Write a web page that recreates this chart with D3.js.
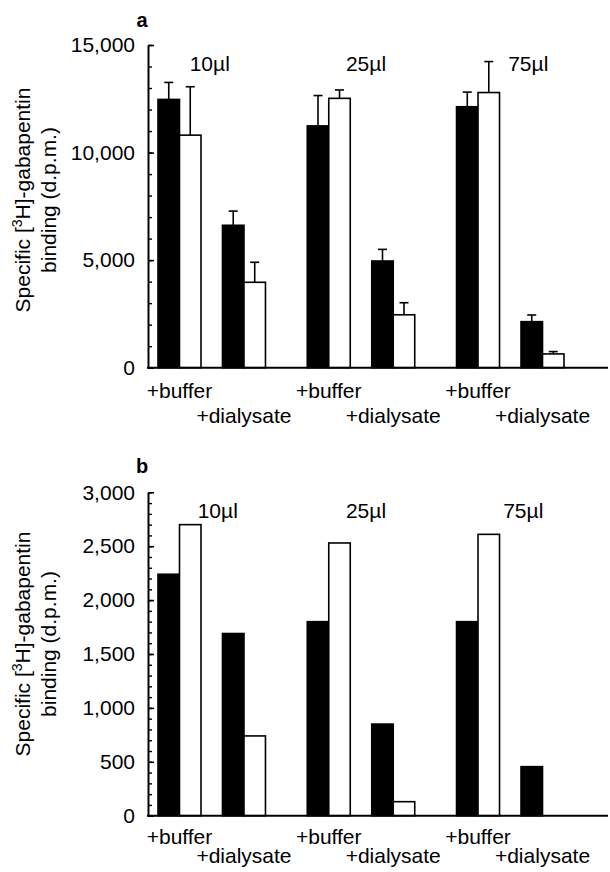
<!DOCTYPE html>
<html>
<head>
<meta charset="utf-8">
<script src="https://cdn.jsdelivr.net/npm/d3@7"></script>
<style>
    body { margin: 0; background: #fff; }
    svg text { font-family: "Liberation Sans", Arial, Helvetica, sans-serif; fill: #000; }
</style>
</head>
<body>
<svg id="chart" width="610" height="872"></svg>
<script>
// groups and conditions
const doses = ['10\u00b5l', '25\u00b5l', '75\u00b5l'];
const conditions = ['+buffer', '+dialysate'];
const seriesKeys = ['filled', 'open'];

// panel a : values per dose, [buffer, dialysate]
const aFilled = [[12470, 6620], [11240, 4960], [12130, 2140]];
const aFilledErr = [[790, 660], [1410, 540], [680, 310]];
const aOpen = [[10810, 3970], [12520, 2460], [12790, 640]];
const aOpenErr = [[2250, 930], [390, 560], [1440, 110]];
const aTicks = [0, 5000, 10000, 15000];
const aMinor = d3.range(0, 15001, 1000);

// panel b : no error bars
const bFilled = [[2240, 1690], [1800, 850], [1800, 455]];
const bOpen = [[2700, 740], [2530, 130], [2610, 0]];
const bTicks = [0, 500, 1000, 1500, 2000, 2500, 3000];
const bMinor = d3.range(0, 3001, 100);

const svg = d3.select('#chart');
const axisX = 148;

function buildRows(filled, open, filledErr, openErr) {
    let rows = [];
    doses.forEach((dose, i) => {
        conditions.forEach((cond, j) => {
            rows.push({dose: dose, cond: cond, key: 'filled', value: filled[i][j], err: filledErr ? filledErr[i][j] : null});
            rows.push({dose: dose, cond: cond, key: 'open', value: open[i][j], err: openErr ? openErr[i][j] : null});
        });
    });
    return rows;
}

function drawPanel(opts) {
    const g = svg.append('g');

    let y = d3.scaleLinear()
        .domain([0, opts.max])
        .range([opts.bottom, opts.top]);

    let xDose = d3.scaleBand()
        .domain(doses)
        .range([158, 564])
        .paddingInner(0.28);
    let xCond = d3.scaleBand()
        .domain(conditions)
        .range([0, xDose.bandwidth()])
        .paddingInner(1 / 3);
    let xKey = d3.scaleBand()
        .domain(seriesKeys)
        .range([0, xCond.bandwidth()]);

    const barX = d => xDose(d.dose) + xCond(d.cond) + xKey(d.key);

    // bars
    g.selectAll('rect.bar')
        .data(opts.rows)
        .enter().append('rect')
        .attr('class', 'bar')
        .attr('x', barX)
        .attr('width', xKey.bandwidth())
        .attr('y', d => y(d.value))
        .attr('height', d => opts.bottom - y(d.value))
        .attr('fill', d => d.key === 'filled' ? '#000' : '#fff')
        .attr('stroke', '#000')
        .attr('stroke-width', 1.6);

    // error bars (upper only)
    let errRows = opts.rows.filter(d => d.err !== null);
    let eb = g.selectAll('g.err')
        .data(errRows)
        .enter().append('g')
        .attr('class', 'err')
        .attr('stroke', '#000')
        .attr('stroke-width', 1.6);
    eb.append('line')
        .attr('x1', d => barX(d) + xKey.bandwidth() / 2)
        .attr('x2', d => barX(d) + xKey.bandwidth() / 2)
        .attr('y1', d => y(d.value))
        .attr('y2', d => y(d.value + d.err));
    eb.append('line')
        .attr('x1', d => barX(d) + xKey.bandwidth() / 2 - 4.5)
        .attr('x2', d => barX(d) + xKey.bandwidth() / 2 + 4.5)
        .attr('y1', d => y(d.value + d.err))
        .attr('y2', d => y(d.value + d.err));

    // minor ticks
    g.append('g')
        .attr('transform', 'translate(' + axisX + ',0)')
        .call(d3.axisLeft(y).tickValues(opts.minor).tickSize(-4).tickFormat(''))
        .call(s => s.select('.domain').remove())
        .call(s => s.selectAll('line').attr('stroke-width', 1.4));

    // y axis
    g.append('g')
        .attr('transform', 'translate(' + axisX + ',0)')
        .call(d3.axisLeft(y).tickValues(opts.ticks).tickSizeInner(-6).tickSizeOuter(0)
            .tickPadding(13).tickFormat(d3.format(',')))
        .call(s => s.select('.domain').attr('stroke-width', 2))
        .call(s => s.selectAll('line').attr('stroke-width', 1.6))
        .call(s => s.selectAll('text').attr('font-size', 21).attr('font-family', null));

    // x baseline
    g.append('line')
        .attr('x1', axisX - 1)
        .attr('x2', 608)
        .attr('y1', opts.bottom)
        .attr('y2', opts.bottom)
        .attr('stroke', '#000')
        .attr('stroke-width', 2);

    // condition labels below axis
    doses.forEach(dose => {
        conditions.forEach((cond, j) => {
            g.append('text')
                .attr('x', xDose(dose) + xCond(cond) + xCond.bandwidth() / 2)
                .attr('y', opts.bottom + opts.condDy[j])
                .attr('text-anchor', 'middle')
                .attr('font-size', 21)
                .text(cond);
        });
    });

    // dose labels
    doses.forEach((dose, i) => {
        g.append('text')
            .attr('x', xDose(dose) + xDose.bandwidth() / 2 + opts.doseDx[i])
            .attr('y', opts.doseY)
            .attr('text-anchor', 'middle')
            .attr('font-size', 21)
            .text(dose);
    });

    // panel letter
    g.append('text')
        .attr('x', 142)
        .attr('y', opts.letterY)
        .attr('text-anchor', 'middle')
        .attr('font-size', 20)
        .attr('font-weight', 'bold')
        .text(opts.letter);

    // y title, two lines, rotated
    let title = g.append('text')
        .attr('transform', 'translate(30,' + opts.titleY + ') rotate(-90)')
        .attr('text-anchor', 'middle')
        .attr('font-size', 21);
    title.append('tspan').attr('x', 0).attr('y', 0).text('Specific [');
    title.append('tspan').attr('font-size', 14).attr('dy', -8).text('3');
    title.append('tspan').attr('dy', 8).text('H]-gabapentin');
    title.append('tspan').attr('x', 0).attr('y', 26).text('binding (d.p.m.)');
}

drawPanel({
    rows: buildRows(aFilled, aOpen, aFilledErr, aOpenErr),
    max: 15000, top: 45, bottom: 367.7,
    ticks: aTicks, minor: aMinor,
    condDy: [30.5, 55], doseY: 70.5, doseDx: [-2, 5, 18],
    letter: 'a', letterY: 27, titleY: 200
});

drawPanel({
    rows: buildRows(bFilled, bOpen, null, null),
    max: 3000, top: 492.3, bottom: 815.7,
    ticks: bTicks, minor: bMinor,
    condDy: [28.3, 47.5], doseY: 517.5, doseDx: [6, 5, 13],
    letter: 'b', letterY: 473, titleY: 644
});
</script>
</body>
</html>
